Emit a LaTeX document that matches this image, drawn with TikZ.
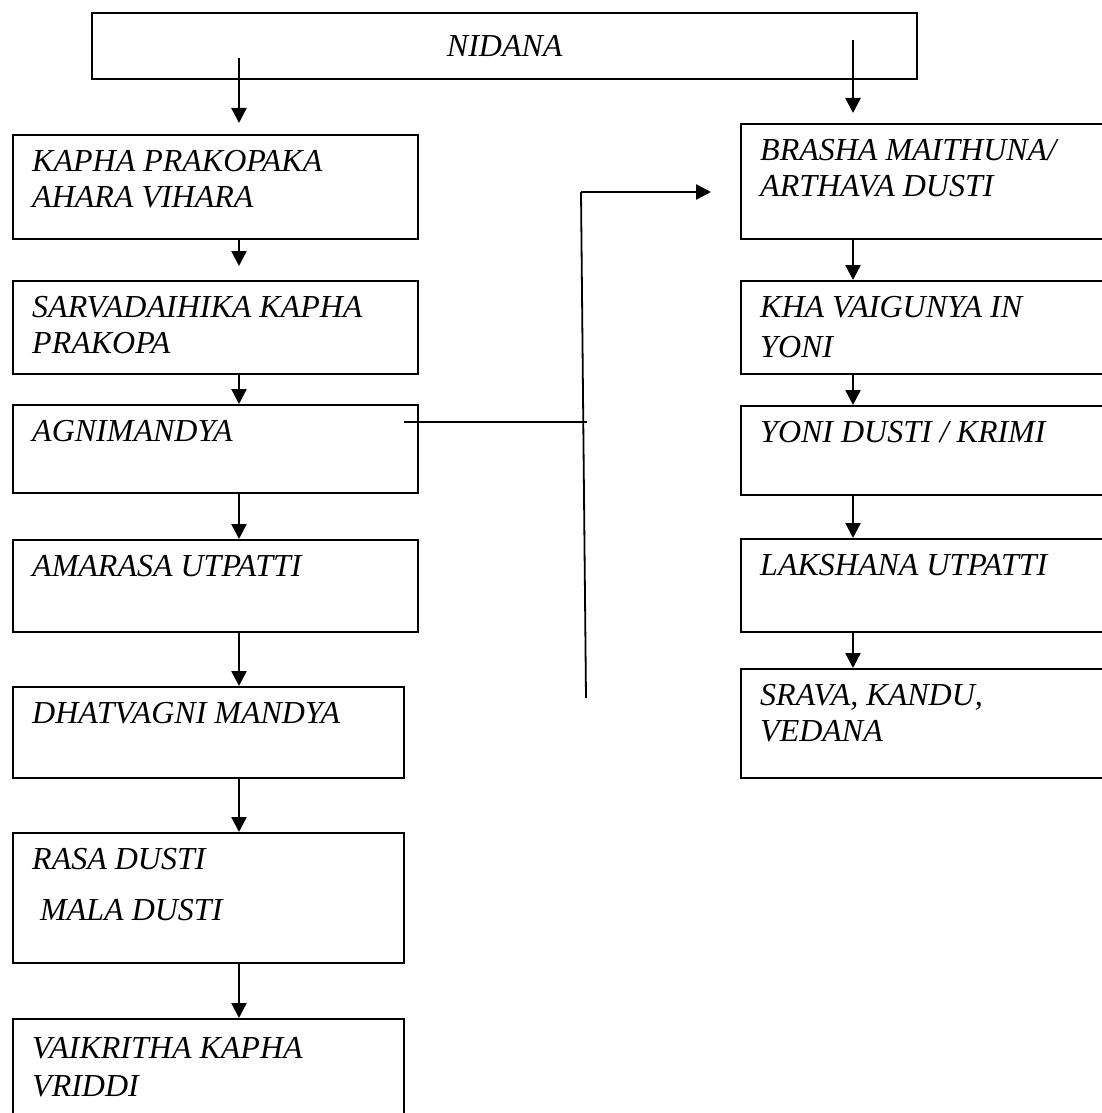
\documentclass[tikz,border=0pt]{standalone}
\usepackage{fontspec}
\setmainfont{Liberation Serif}
\usepackage{tikz}
\usetikzlibrary{arrows.meta,positioning}

\begin{document}
\begin{tikzpicture}[
    x=1pt, y=-1pt,
    box/.style={draw, line width=2.4pt, anchor=north west, inner sep=0pt, font=\itshape\fontsize{32}{36}\selectfont},
    txt/.style={anchor=north west, inner sep=0pt, xshift=20pt, yshift=-16pt, align=left, font=\itshape\fontsize{32}{36}\selectfont},
    arr/.style={-{Triangle[length=15pt,width=15pt]}, line width=2.4pt},
    link/.style={line width=1.8pt}
]
\path[use as bounding box, clip] (0,0) rectangle (1102,1113);

\node[box, minimum width=825pt, minimum height=66pt] (nid) at (91,12) {NIDANA};

% left chain
\node[box, minimum width=405pt, minimum height=104pt] (b1) at (12,134) {};
\node[box, minimum width=405pt, minimum height=93pt] (b2) at (12,280) {};
\node[box, minimum width=405pt, minimum height=88pt] (b3) at (12,404) {};
\node[box, minimum width=405pt, minimum height=92pt] (b4) at (12,539) {};
\node[box, minimum width=391pt, minimum height=91pt] (b5) at (12,686) {};
\node[box, minimum width=391pt, minimum height=130pt] (b6) at (12,832) {};
\node[box, minimum width=391pt, minimum height=130pt] (b7) at (12,1018) {};
\node[txt] (t1) at (b1.north west) {KAPHA PRAKOPAKA\\AHARA VIHARA};
\node[txt] (t2) at (b2.north west) {SARVADAIHIKA KAPHA\\PRAKOPA};
\node[txt] (t3) at (b3.north west) {AGNIMANDYA};
\node[txt] (t4) at (b4.north west) {AMARASA UTPATTI};
\node[txt] (t5) at (b5.north west) {DHATVAGNI MANDYA};
\node[txt] (t6) at (b6.north west) {RASA DUSTI\\[15pt]\hspace*{8pt}MALA DUSTI};
\node[txt, yshift=-3pt] (t7) at (b7.north west) {VAIKRITHA KAPHA\\[2pt]VRIDDI};

% right chain
\node[box, minimum width=420pt, minimum height=115pt] (r1) at (740,123) {};
\node[box, minimum width=420pt, minimum height=93pt] (r2) at (740,280) {};
\node[box, minimum width=420pt, minimum height=89pt] (r3) at (740,405) {};
\node[box, minimum width=420pt, minimum height=93pt] (r4) at (740,538) {};
\node[box, minimum width=420pt, minimum height=109pt] (r5) at (740,668) {};
\node[txt] (u1) at (r1.north west) {BRASHA MAITHUNA/\\ARTHAVA DUSTI};
\node[txt] (u2) at (r2.north west) {KHA VAIGUNYA IN\\[4pt]YONI};
\node[txt] (u3) at (r3.north west) {YONI DUSTI / KRIMI};
\node[txt] (u4) at (r4.north west) {LAKSHANA UTPATTI};
\node[txt] (u5) at (r5.north west) {SRAVA, KANDU,\\VEDANA};

\coordinate (nl) at (239,58);
\coordinate (nr) at (853,40);

\draw[arr, shorten >=11pt] (nl) -- (nl |- b1.north);
\draw[arr, shorten >=14pt] (b1.south -| nl) -- (b2.north -| nl);
\draw[arr] (b2.south -| nl) -- (b3.north -| nl);
\draw[arr] (b3.south -| nl) -- (b4.north -| nl);
\draw[arr] (b4.south -| nl) -- (b5.north -| nl);
\draw[arr] (b5.south -| nl) -- (b6.north -| nl);
\draw[arr] (b6.south -| nl) -- (b7.north -| nl);

\draw[arr, shorten >=10pt] (nr) -- (nr |- r1.north);
\draw[arr] (r1.south -| nr) -- (r2.north -| nr);
\draw[arr] (r2.south -| nr) -- (r3.north -| nr);
\draw[arr] (r3.south -| nr) -- (r4.north -| nr);
\draw[arr] (r4.south -| nr) -- (r5.north -| nr);

% side link
\coordinate (ag) at (404,422);
\coordinate (jm) at (587,422);
\coordinate (jt) at (581,192);
\coordinate (jb) at (586,698);
\draw[link] (ag) -- (jm);
\draw[link] (jt) -- (jb);
\draw[arr, shorten >=29pt] (jt) -- (jt -| r1.west);
\end{tikzpicture}
\end{document}
